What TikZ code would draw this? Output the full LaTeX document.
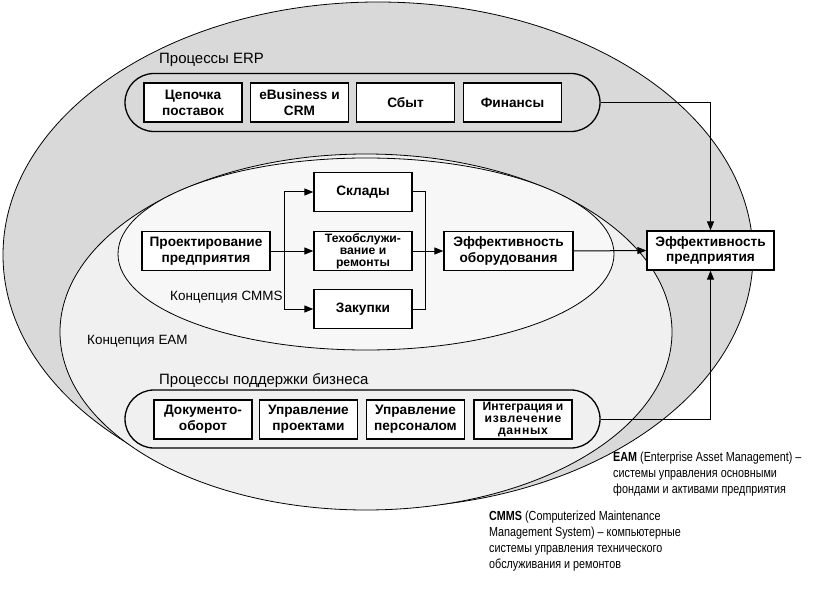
\documentclass[tikz,border=0pt]{standalone}
\usepackage{fontspec}
\setmainfont{Liberation Sans}
\newfontfamily\narrowfont[FakeStretch=0.82]{Liberation Sans}
\usetikzlibrary{arrows.meta}

\definecolor{erpgray}{HTML}{D9D9D9}
\definecolor{eamgray}{HTML}{F0F0F0}
\definecolor{cmmsgray}{HTML}{F7F7F7}

\begin{document}
\begin{tikzpicture}[x=1bp, y=-1bp, >={Triangle[length=9bp,width=7bp]},
    box/.style={draw, line width=1.3bp, fill=white, align=center, inner sep=1bp,
      minimum width=98bp, minimum height=39bp,
      font=\fontsize{13.7}{16}\selectfont\bfseries},
    smallbox/.style={box, font=\fontsize{12.2}{12}\selectfont\bfseries},
    holder/.style={draw, line width=1.3bp, rounded corners=29bp,
      minimum width=475bp, minimum height=58bp},
    zone/.style={font=\fontsize{13.5}{16}\selectfont, anchor=west, inner sep=0pt},
    bigzone/.style={zone, font=\fontsize{15}{17}\selectfont},
    note/.style={font=\narrowfont\fontsize{13.2}{16}\selectfont, align=left,
      anchor=north west, inner sep=0pt},
    link/.style={line width=1bp}]
  \useasboundingbox (0,0) rectangle (835,599);

  % zones
  \draw[fill=erpgray, line width=0.8bp] (378,255) ellipse [x radius=375, y radius=253];
  \draw[fill=eamgray, line width=0.8bp] (366,332) ellipse [x radius=306, y radius=178];
  \draw[fill=cmmsgray, line width=0.8bp] (366,254) ellipse [x radius=248, y radius=96];

  \node[bigzone] (erplabel) at (159,60) {Процессы ERP};
  \node[zone] (cmmslabel) at (170,297) {Концепция CMMS};
  \node[zone] (eamlabel) at (87,341) {Концепция EAM};
  \node[bigzone] (supportlabel) at (159,381) {Процессы поддержки бизнеса};

  % ERP processes
  \node[holder] (erp) at (362.5,102.5) {};
  \node[box] (chain) at (193,102.5) {Цепочка\\поставок};
  \node[box] (ebus) at (299.5,102.5) {eBusiness и\\CRM};
  \node[box] (sales) at (405.5,102.5) {Сбыт};
  \node[box] (fin) at (512.5,102.5) {Финансы};

  % support processes
  \node[holder] (support) at (362.5,419) {};
  \node[box] (docs) at (203,419.5) {Документо-\\оборот};
  \node[box] (proj) at (308.5,419.5) {Управление\\проектами};
  \node[box] (staff) at (415.5,419.5) {Управление\\персоналом};
  \node[smallbox] (integ) at (523,419.5) {Интеграция и\\\addfontfeature{LetterSpace=6}извлечение\\\addfontfeature{LetterSpace=6}данных};

  % CMMS chain
  \node[box, minimum width=128bp] (design) at (206,251) {Проектирование\\предприятия};
  \node[box] (stores) at (363,192) {Склады};
  \node[smallbox] (maint) at (363,251) {Техобслужи-\\вание и\\ремонты};
  \node[box] (purch) at (363,309) {Закупки};
  \node[box, minimum width=129bp] (equip) at (508.5,251) {Эффективность\\оборудования};
  \node[box, minimum width=127bp] (enterprise) at (710.5,250.5) {Эффективность\\предприятия};

  \coordinate (split) at (284,251);
  \coordinate (join) at (425,251);

  \draw[link] (design.east) -- (split);
  \draw[link, ->] (split) |- (stores.west);
  \draw[link, ->] (split) -- (maint.west);
  \draw[link, ->] (split) |- (purch.west);
  \draw[link] (stores.east) -| (join);
  \draw[link] (purch.east) -| (join);
  \draw[link, ->] (maint.east) -- (equip.west);
  \draw[link, ->] (equip.east) -- (enterprise.west);
  \draw[link, ->] (erp.east) -| (enterprise.north);
  \draw[link, ->] (support.east) -| (enterprise.south);

  % notes
  \node[note] (eamnote) at (613,452) {\textbf{EAM} (Enterprise Asset Management) –\\системы управления основными\\фондами и активами предприятия};
  \node[note] (cmmsnote) at (489,511) {\textbf{CMMS} (Computerized Maintenance\\Management System) – компьютерные\\системы управления технического\\обслуживания и ремонтов};
\end{tikzpicture}
\end{document}
